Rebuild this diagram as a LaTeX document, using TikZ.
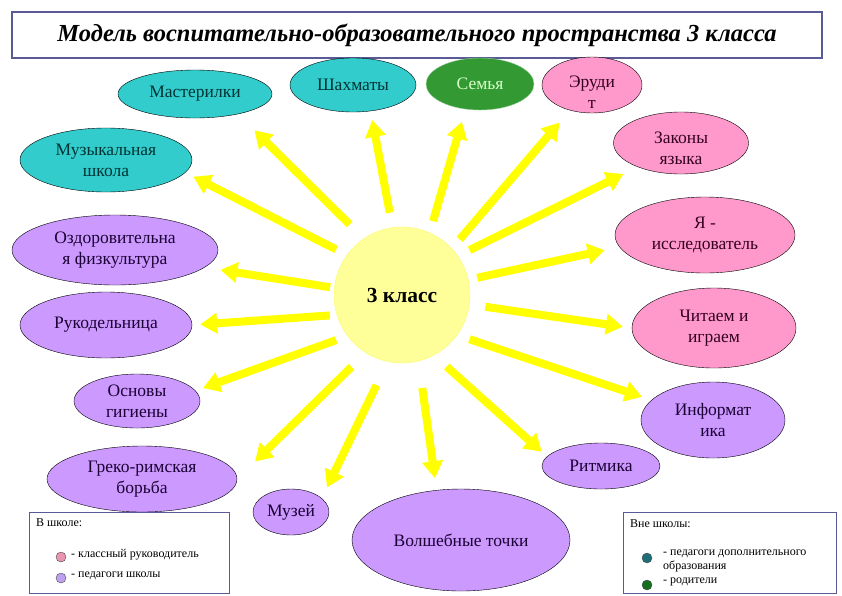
\documentclass[tikz,border=0pt]{standalone}
\usepackage{fontspec}
\setmainfont{Liberation Serif}
\usetikzlibrary{shapes.geometric,arrows.meta}
\definecolor{cyanfill}{RGB}{51,204,204}
\definecolor{cyantext}{RGB}{0,51,51}
\definecolor{pinkfill}{RGB}{255,153,204}
\definecolor{pinktext}{RGB}{51,0,34}
\definecolor{purpfill}{RGB}{204,153,255}
\definecolor{purptext}{RGB}{26,0,51}
\definecolor{famfill}{RGB}{51,153,51}
\definecolor{famtext}{RGB}{215,255,200}
\definecolor{sunfill}{RGB}{255,255,153}
\definecolor{sunedge}{RGB}{250,250,110}
\definecolor{raycol}{RGB}{255,255,0}
\definecolor{boxedge}{RGB}{90,90,150}
\definecolor{legpink}{RGB}{232,150,175}
\definecolor{legpurp}{RGB}{190,160,240}
\definecolor{legteal}{RGB}{30,110,120}
\definecolor{leggreen}{RGB}{20,110,30}
\tikzset{
  >={Triangle[width=20pt,length=17pt]},
  bubble/.style 2 args={ellipse,draw=black,thin,inner sep=0pt,align=center,
    minimum width=#1,minimum height=#2,font=\fontsize{17.5}{21}\selectfont},
  cyanb/.style={fill=cyanfill,text=cyantext},
  pinkb/.style={fill=pinkfill,text=pinktext},
  purpb/.style={fill=purpfill,text=purptext},
  bubtext/.style={inner sep=0pt,align=center,font=\fontsize{17.5}{21}\selectfont},
  ray/.style 2 args={->,line width=8pt,draw=raycol,shorten <=#1,shorten >=#2},
  legbox/.style={draw=boxedge,thin,fill=white,inner sep=0pt},
  legtext/.style={anchor=west,inner sep=0pt,align=left,font=\fontsize{12}{14}\selectfont},
  dot/.style={circle,draw=black!70,thin,inner sep=0pt,minimum size=10pt},
}
\begin{document}
\begin{tikzpicture}[x=1pt,y=-1pt]
  \useasboundingbox (0,0) rectangle (842,595);
  \node[draw=boxedge,line width=1.2pt,minimum width=810pt,minimum height=46pt,
    font=\fontsize{24.5}{28}\selectfont\bfseries\itshape] (title) at (417,35)
    {Модель воспитательно-образовательного пространства 3 класса};

  \node[circle,draw=sunedge,fill=sunfill,minimum size=136pt,
    font=\fontsize{21.5}{24}\selectfont\bfseries] (sun) at (402,295) {3 класс};

  \node[bubble={154pt}{48pt},cyanb] (mast) at (195,94) {Мастерилки};
  \node[bubble={126pt}{54pt},cyanb] (shah) at (353,85) {Шахматы};
  \node[bubble={108pt}{52pt},fill=famfill,draw=famfill!50!white,text=famtext] (fam) at (480,84) {Семья};
  \node[bubble={100pt}{56pt},pinkb] (erud) at (592,85) {};
  \node[bubtext,text=pinktext] (erudtext) at (592,92) {Эруди\\т};
  \node[bubble={135pt}{62pt},pinkb] (zak) at (681,143) {};
  \node[bubtext,text=pinktext] (zaktext) at (681,148) {Законы\\языка};
  \node[bubble={180pt}{76pt},pinkb] (ya) at (705,235) {Я -\\исследователь};
  \node[bubble={164pt}{80pt},pinkb] (read) at (714,328) {Читаем и\\играем};
  \node[bubble={144pt}{76pt},purpb] (inf) at (713,420) {Информат\\ика};
  \node[bubble={118pt}{46pt},purpb] (rit) at (601,466) {Ритмика};
  \node[bubble={218pt}{102pt},purpb] (magic) at (461,540) {Волшебные точки};
  \node[bubble={76pt}{46pt},purpb] (mus) at (291,512) {Музей};
  \node[bubble={190pt}{66pt},purpb] (greco) at (142,479) {Греко-римская\\борьба};
  \node[bubble={126pt}{54pt},purpb] (osn) at (137,401) {Основы\\гигиены};
  \node[bubble={172pt}{66pt},purpb] (ruk) at (106,325) {Рукодельница};
  \node[bubble={206pt}{70pt},purpb] (ozd) at (115,250) {Оздоровительна\\я физкультура};
  \node[bubble={172pt}{64pt},cyanb] (muz) at (106,160) {Музыкальная\\школа};

  \draw[ray={20pt}{23pt}] (sun.124) -- (mast.-25);
  \draw[ray={15pt}{9pt}] (sun.98) -- (shah.-56);
  \draw[ray={12pt}{13pt}] (sun.66) -- (fam.-120);
  \draw[ray={12pt}{16pt}] (sun.43) -- (erud.-131);
  \draw[ray={13pt}{16pt}] (sun.35) -- (zak.-151);
  \draw[ray={9pt}{15pt}] (sun.13) -- (ya.-172);
  \draw[ray={16pt}{9pt}] (sun.-8) -- (read.180);
  \draw[ray={13pt}{10pt}] (sun.-36) -- (inf.162);
  \draw[ray={17pt}{7pt}] (sun.-62) -- (rit.170);
  \draw[ray={27pt}{12pt}] (sun.-76) -- (magic.116);
  \draw[ray={26pt}{12pt}] (sun.-102) -- (mus.24);
  \draw[ray={20pt}{25pt}] (sun.-122) -- (greco.0);
  \draw[ray={12pt}{8pt}] (sun.-143) -- (osn.10);
  \draw[ray={7pt}{8pt}] (sun.-163) -- (ruk.0);
  \draw[ray={4pt}{16pt}] (sun.174) -- (ozd.-11);
  \draw[ray={12pt}{9pt}] (sun.144) -- (muz.-9);

  \node[legbox,minimum width=200pt,minimum height=81pt] (inbox) at (129,552.5) {};
  \node[legtext] (inhead) at (36,523) {В школе:};
  \node[dot,fill=legpink] (dotpink) at (61,557) {};
  \node[legtext] (inpink) at (71,555) {- классный руководитель};
  \node[dot,fill=legpurp] (dotpurp) at (61,578) {};
  \node[legtext] (inpurp) at (71,576) {- педагоги школы};

  \node[legbox,minimum width=213pt,minimum height=81pt] (outbox) at (729.5,552.5) {};
  \node[legtext] (outhead) at (630,524) {Вне школы:};
  \node[dot,fill=legteal] (dotteal) at (647,558) {};
  \node[legtext] (outteal) at (663,561) {- педагоги дополнительного\\образования};
  \node[dot,fill=leggreen] (dotgreen) at (647,585) {};
  \node[legtext] (outgreen) at (663,582) {- родители};
\end{tikzpicture}
\end{document}
